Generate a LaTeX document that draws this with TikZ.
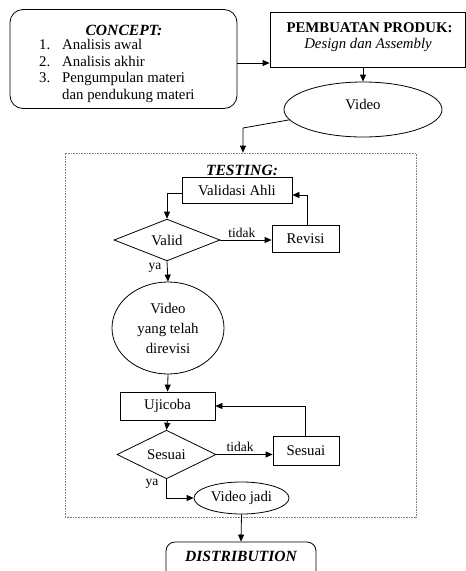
\documentclass[tikz,border=0pt]{standalone}
\usepackage{fontspec}
\setmainfont{Liberation Serif}
\usetikzlibrary{arrows.meta,shapes.geometric}
\begin{document}
\begin{tikzpicture}[x=1pt,y=-1pt,
  every node/.style={font=\fontsize{14.8}{17}\selectfont, inner sep=0pt},
  box/.style={draw, line width=0.8pt, rectangle},
  rbox/.style={draw, line width=0.8pt, rectangle, rounded corners=13pt},
  oval/.style={draw, ellipse, line width=0.8pt},
  dia/.style={draw, diamond, line width=0.8pt},
  arr/.style={-{Triangle[length=7pt,width=6pt]}, line width=0.8pt},
  lbl/.style={font=\fontsize{13.5}{15}\selectfont},
  ttl/.style={font=\fontsize{15.6}{18}\selectfont\bfseries\itshape},
  frame/.style={draw=gray, line width=0.8pt, dash pattern=on 0.8pt off 0.8pt}]
\useasboundingbox (0,0) rectangle (466,571);

% CONCEPT box
\node[rbox, minimum width=227pt, minimum height=99pt] (concept) at (123.5,59) {};
\node[ttl, anchor=base] (ctitle) at (124,35) {CONCEPT:};
\node[anchor=base west] (c1n) at (39,49.5) {1.};
\node[anchor=base west] (c1) at (62,49.5) {Analisis awal};
\node[anchor=base west] (c2n) at (39,66) {2.};
\node[anchor=base west] (c2) at (62,66) {Analisis akhir};
\node[anchor=base west] (c3n) at (39,82) {3.};
\node[anchor=base west] (c3) at (62,82) {Pengumpulan materi};
\node[anchor=base west] (c3b) at (62,99) {dan pendukung materi};

% PEMBUATAN PRODUK box
\node[box, minimum width=195pt, minimum height=55pt] (produk) at (367.5,39.5) {};
\node[anchor=base] (ptitle) at (369.5,32) {\bfseries PEMBUATAN PRODUK:};
\node[anchor=base] (psub) at (368,48) {\itshape Design dan Assembly};

% Video ellipse
\node[oval, minimum width=158pt, minimum height=55pt, text height=10pt, text depth=10pt] (video) at (363,109.5) {Video};

% Testing frame
\node[frame, minimum width=351pt, minimum height=364pt] (testing) at (240.5,335) {};
\node[ttl, anchor=base] (ttitle) at (242,175) {TESTING:};

\node[box, minimum width=110pt, minimum height=26pt] (validasi) at (237,190) {Validasi Ahli};
\node[dia, minimum width=106pt, minimum height=38pt] (valid) at (167,240) {Valid};
\node[box, minimum width=67pt, minimum height=27pt] (revisi) at (305.5,238.5) {Revisi};
\node[oval, minimum width=112pt, minimum height=92pt, align=center, font=\fontsize{14.8}{20}\selectfont] (videorev) at (168,328) {Video\\yang telah\\direvisi};
\node[box, minimum width=95pt, minimum height=28pt] (ujicoba) at (167.5,406) {Ujicoba};
\node[dia, minimum width=99pt, minimum height=39pt] (sesuai) at (166.5,454.5) {Sesuai};
\node[box, minimum width=66pt, minimum height=29pt] (sesbox) at (306,450.5) {Sesuai};
\node[oval, minimum width=95pt, minimum height=32pt] (jadi) at (241.5,498) {Video jadi};

\node[lbl, anchor=base] (ya1) at (155,269) {ya};
\node[lbl, anchor=base] (ya2) at (152,485) {ya};

% DISTRIBUTION
\node[rbox, rounded corners=9pt, minimum width=150pt, text height=19pt, text depth=20pt, ttl] (dist) at (241,561.5) {DISTRIBUTION};

% connectors
\coordinate (bend1) at (243,128);
\draw[arr] ([yshift=-4pt]concept.east) -- ([yshift=-4pt]concept.east -| produk.west);
\draw[arr] (produk.south -| video.north) -- (video.north);
\draw[arr] (video.188) -- (bend1) -- (bend1 |- testing.north);
\draw[arr] ([yshift=-3pt]validasi.west) -| (valid.north);
\draw[arr] (valid.east) -- node[lbl, above=2pt, pos=0.42] (t1) {tidak} (valid.east -| revisi.west);
\draw[arr] ([xshift=1.5pt]revisi.north) |- ([yshift=-5pt]validasi.east);
\draw[arr] (valid.south) -- (videorev.north);
\draw[arr] (videorev.south) -- (ujicoba.north);
\draw[arr] (ujicoba.south) -- (sesuai.north);
\draw[arr] (sesuai.east) -- node[lbl, above=2pt, pos=0.42] (t2) {tidak} (sesuai.east -| sesbox.west);
\draw[arr] ([xshift=-1pt]sesbox.north) |- (ujicoba.east);
\draw[arr] (sesuai.south) |- (jadi.west);
\draw[arr] (jadi.south) -- (dist.north);
\end{tikzpicture}
\end{document}
